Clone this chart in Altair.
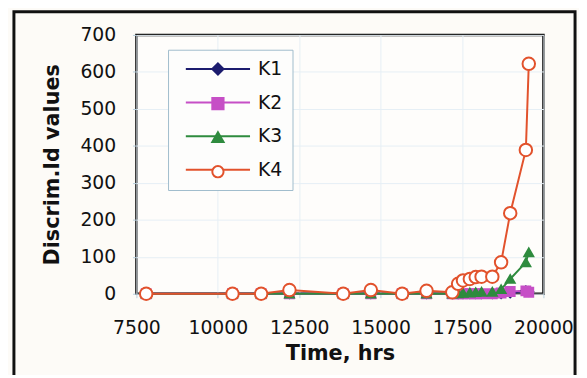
import altair as alt
import pandas as pd

times = [7800, 10450, 11330, 12200, 13850, 14700, 15660, 16410, 17200, 17380,
         17530, 17740, 17920, 18100, 18430, 18700, 18980, 19460, 19550]
k1 = [0, 0, 0, 0, 0, 0, 0, 0, 0, 0, 0, 0, 0, 0, 0, 0, 2, 8, 6]
k2 = [0, 0, 0, 0, 0, 0, 0, 0, 0, 0, 0, 0, 0, 0, 0, 2, 6, 8, 4]
k3 = [0, 0, 0, 0, 0, 0, 0, 0, 0, 1, 2, 3, 4, 5, 5, 12, 40, 85, 112]
k4 = [0, 0, 0, 10, 0, 10, 0, 8, 4, 27, 36, 40, 45, 46, 46, 85, 218, 389, 622]

series_names = ["K1", "K2", "K3", "K4"]
marker_keys = ["m1", "m2", "m3", "m4"]
series_colors = ["#1c1c6e", "#c64fc6", "#2e8b3e", "#e2522c"]
marker_fills = ["#1c1c6e", "#c64fc6", "#2e8b3e", "#ffffff"]
series_shapes = ["diamond", "square", "triangle-up", "circle"]
x_ticks = [7500, 10000, 12500, 15000, 17500, 20000]
y_ticks = [0, 100, 200, 300, 400, 500, 600, 700]

rows = []
for name, key, vals in zip(series_names, marker_keys, [k1, k2, k3, k4]):
    for t, v in zip(times, vals):
        rows.append({"Time": t, "Value": v, "Series": name, "Marker": key})
df = pd.DataFrame(rows)

FONT = "DejaVu Sans"
LEG_X, LEG_Y = 32, 15
SYM = 130
NBSP5 = "\u00a0" * 5

x_axis = alt.Axis(values=x_ticks, format="d", title="Time, hrs",
                  labelOverlap=False, labelFlush=False, tickCount=len(x_ticks))
y_axis = alt.Axis(values=y_ticks, format="d", title="Discrim.Id values",
                  labelOverlap=False, labelFlush=False, tickCount=len(y_ticks))
x_scale = alt.Scale(domain=[7500, 20000], nice=False)
y_scale = alt.Scale(domain=[0, 700], nice=False)

common_leg = dict(
    title=None, orient="none", legendX=LEG_X, legendY=LEG_Y,
    symbolSize=SYM, symbolOffset=31, labelOffset=31, rowPadding=14, padding=10,
    labelFont=FONT, labelFontSize=19, labelColor="#111111",
    symbolStrokeWidth=2,
)
line_legend = alt.Legend(
    symbolType="M-5.7,0H5.7", strokeColor="#9fbccc", fillColor="#fdfdfc",
    labelExpr="datum.label + '" + NBSP5 + "'",
    **common_leg,
)
marker_legend = alt.Legend(labelOpacity=0, labelExpr="' '", **common_leg)

frame = alt.Chart(alt.Data(values=[{"a": 1}])).mark_rect(
    fill="#fdfbf7", fillOpacity=0, stroke="#111111", strokeWidth=3
).encode(x=alt.value(-124), x2=alt.value(444), y=alt.value(-23.5), y2=alt.value(380))

lines = alt.Chart(df).mark_line(strokeWidth=2).encode(
    x=alt.X("Time:Q", scale=x_scale, axis=x_axis),
    y=alt.Y("Value:Q", scale=y_scale, axis=y_axis),
    color=alt.Color("Series:N", scale=alt.Scale(domain=series_names, range=series_colors),
                    legend=line_legend),
    order=alt.Order("Time:Q"),
)

pts = alt.Chart(df).mark_point(opacity=1, fillOpacity=1, strokeWidth=2).encode(
    x=alt.X("Time:Q", scale=x_scale, axis=x_axis),
    y=alt.Y("Value:Q", scale=y_scale, axis=y_axis),
    fill=alt.Fill("Marker:N", scale=alt.Scale(domain=marker_keys, range=marker_fills),
                  legend=marker_legend),
    stroke=alt.Stroke("Marker:N", scale=alt.Scale(domain=marker_keys, range=series_colors),
                      legend=marker_legend),
    shape=alt.Shape("Marker:N", scale=alt.Scale(domain=marker_keys, range=series_shapes),
                    legend=marker_legend),
    size=alt.condition(alt.datum.Marker == "m4", alt.value(160), alt.value(80)),
)

chart = alt.layer(frame, lines, pts).properties(
    width=412, height=262,
    autosize=alt.AutoSizeParams(type="none"),
    padding={"left": 130, "top": 25, "right": 36, "bottom": 80},
    background="#fdfbf7",
).configure_view(
    stroke="#111111", strokeWidth=2.5, fill="#fefdfb"
).configure_axis(
    labelFont=FONT, labelFontSize=19, labelColor="#111111",
    titleFont=FONT, titleFontSize=21, titleFontWeight="bold", titleColor="#111111",
    gridColor="#e6eff5", gridWidth=1, domain=False,
    tickColor="#b9d0de", tickSize=4,
).configure_axisY(
    labelPadding=17, titlePadding=18,
).configure_axisX(
    labelPadding=21, titlePadding=6,
)

chart.save("out.html", embed_options={"renderer": "svg", "actions": False})
